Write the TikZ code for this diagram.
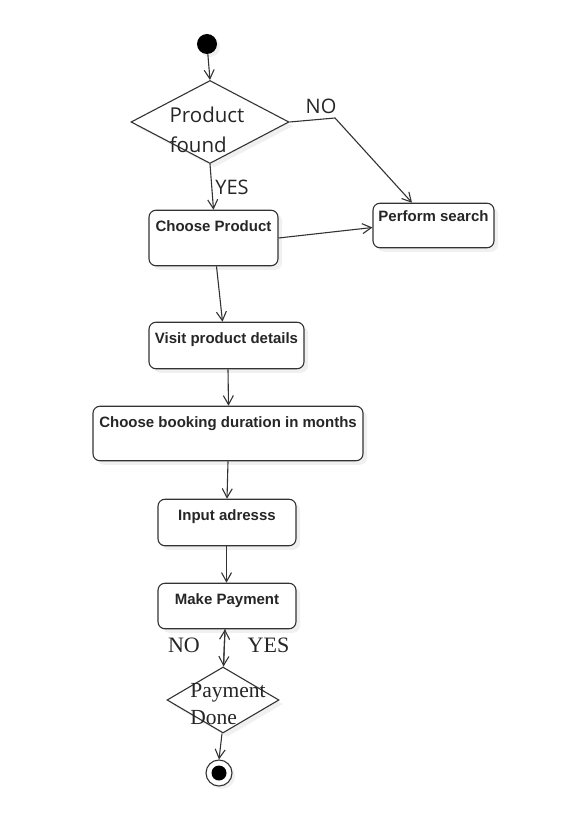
\documentclass[tikz,border=0pt]{standalone}
\usepackage{fontspec}
\usetikzlibrary{shapes,arrows.meta,positioning,shadows}
\newfontfamily\boxfont{Liberation Sans}
\newfontfamily\humfont{Open Sans}
\newfontfamily\serfont{Liberation Serif}
\definecolor{linegray}{RGB}{51,51,51}
\tikzstyle{block}    = [rectangle, draw=linegray, line width=1.1pt, fill=white, rounded corners=7pt, text centered, font=\boxfont\bfseries\fontsize{15}{17}\selectfont, text=black!85, text height=11pt, inner ysep=10.5pt, drop shadow={shadow xshift=4pt, shadow yshift=-4pt, opacity=0.12}]
\tikzstyle{decision} = [diamond, draw=linegray, line width=1.1pt, fill=white, inner sep=0pt, drop shadow={shadow xshift=4pt, shadow yshift=-4pt, opacity=0.12}]
\tikzstyle{line}     = [draw=linegray, line width=1.1pt, -{Straight Barb[length=9pt,width=10pt]}]
\tikzstyle{guard}    = [font=\humfont\fontsize{20}{22}\selectfont, text=black!85, inner sep=0pt]
\tikzstyle{sguard}   = [font=\serfont\fontsize{22}{24}\selectfont, text=black!85, inner sep=0pt]

\begin{document}
\begin{tikzpicture}[x=1pt, y=-1pt]
	\useasboundingbox (0,0) rectangle (562,818);

		% Node Setting %

		% 0 =======================================%
		\node [circle, fill=black, minimum size=20pt, inner sep=0pt, drop shadow={shadow xshift=3pt, shadow yshift=-3pt, opacity=0.12}] (start) at (207,44) {};
		% 1 =======================================%
		\node [decision, minimum width=158pt, minimum height=83pt,
			label={[font=\humfont\fontsize{20.5}{30}\selectfont, align=left, text=black!85, yshift=-8pt, xshift=-3pt]center:Product\\found}] (found) at (210,122) {};
		\node [guard] (foundNO) at (321,106) {NO};
		\node [guard] (foundYES) at (232,187) {YES};
		\coordinate (nobend) at (335,118);
		% 2 =======================================%
		\node [block, minimum width=129pt, text depth=23.5pt] (choose) at (213.5,238) {Choose Product};
		\node [block, minimum width=121pt, inner ysep=7pt, text depth=19.5pt] (search) at (433.5,225.5) {Perform search};
		% 3 =======================================%
		\node [block, minimum width=155pt, text depth=14.5pt] (visit) at (226.5,345.5) {Visit product details};
		% 4 =======================================%
		\node [block, minimum width=270pt, text depth=22.5pt] (booking) at (228,433.5) {Choose booking duration in months};
		% 5 =======================================%
		\node [block, minimum width=138pt, text depth=14.5pt] (address) at (227,522.5) {Input adresss};
		% 6 =======================================%
		\node [block, minimum width=138pt, text depth=13.5pt] (payment) at (227,606) {Make Payment};
		% 7 =======================================%
		\node [decision, minimum width=112pt, minimum height=66pt,
			label={[font=\serfont\fontsize{21.5}{27}\selectfont, align=left, text=black!85, yshift=-4pt, xshift=5pt]center:Payment\\Done}] (done) at (223,700) {};
		\node [sguard] (doneNO) at (184,645) {NO};
		\node [sguard] (doneYES) at (268.5,645) {YES};
		% 8 =======================================%
		\node [circle, draw=linegray, line width=1.1pt, fill=white, minimum size=26pt, inner sep=0pt, drop shadow={shadow xshift=3pt, shadow yshift=-3pt, opacity=0.12}] (finish) at (219,773) {};
		\node [circle, fill=black, minimum size=15pt, inner sep=0pt] (finishdot) at (finish) {};
		%=========================================%

		% Connection %

		\path [line] (start)  -- (found.north);
		\path [line] (found.east)  -- (nobend) -- ([xshift=-21.5pt]search.north);
		\path [line] (found.south)  -- (choose.north);
		\path [line] (choose.east)  -- ([yshift=-2pt]search.west);
		\path [line] ([xshift=3pt]choose.south)  -- ([xshift=-4pt]visit.north);
		\path [line] ([xshift=1.5pt]visit.south)  -- ([xshift=0.5pt]booking.north);
		\path [line] (booking.south)  -- (address.north);
		\path [line] ([xshift=-0.5pt]address.south)  -- ([xshift=-0.5pt]payment.north);
		\path [line] ([xshift=0.5pt]done.north)  -- ([xshift=-2pt]payment.south);
		\path [line] ([xshift=-2pt]payment.south)  -- ([xshift=0.5pt]done.north);
		\path [line] ([xshift=-1pt]done.south)  -- (finish.north);
	\end{tikzpicture}
\end{document}
